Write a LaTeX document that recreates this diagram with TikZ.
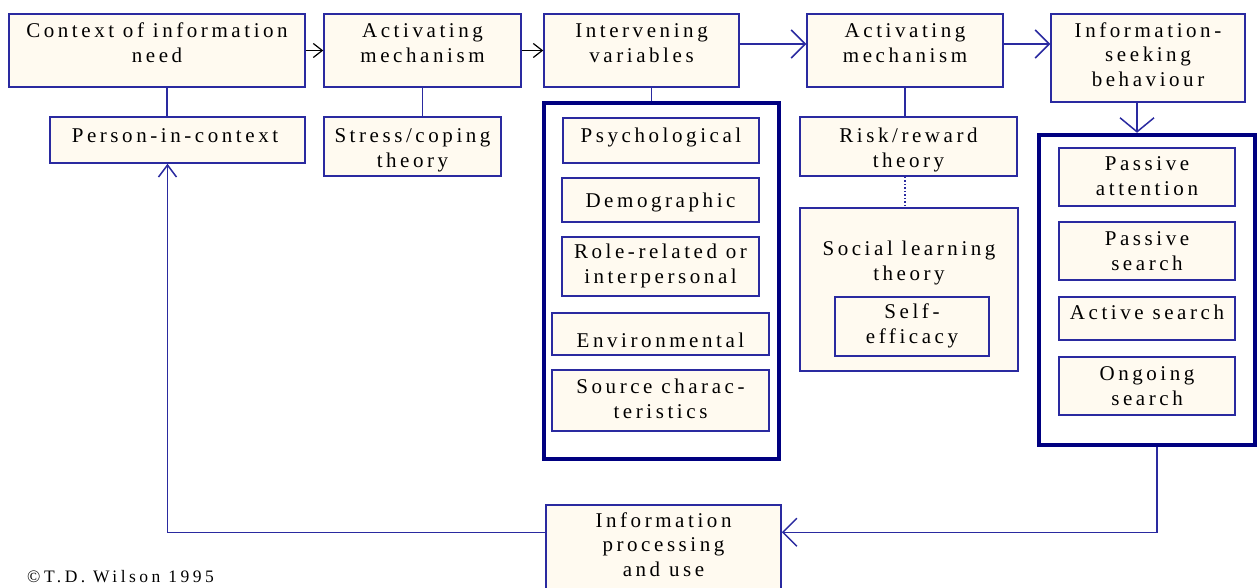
\documentclass[tikz,border=0pt]{standalone}
\usepackage{fontspec}
\setmainfont{Liberation Serif}
\newfontfamily\spaced{Liberation Serif}[LetterSpace=17]
\newfontfamily\signfont{Liberation Serif}[LetterSpace=20]
\usetikzlibrary{arrows.meta,fit}

\definecolor{edge}{HTML}{2A2AA0}
\definecolor{deep}{HTML}{000080}
\definecolor{paper}{HTML}{FFFAF0}

\tikzset{
  box/.style={draw=edge, line width=1.5pt, fill=paper, inner sep=0pt},
  frame/.style={draw=deep, line width=4.5pt, fill=white, inner sep=0pt},
  % anchor=base sits on the baseline of the last line
  lbl/.style={anchor=base, align=center, inner sep=0pt, text=black,
              font=\spaced\fontsize{21}{24.5}\selectfont},
  link/.style={draw=edge, line width=1.5pt},
  bigtip/.style={-{Straight Barb[length=14pt,width=28pt]}},
  downtip/.style={-{Straight Barb[length=14pt,width=34pt]}},
  uptip/.style={-{Straight Barb[length=12pt,width=18pt]}},
  smalltip/.style={draw=black, line width=1.2pt, -{Straight Barb[length=9pt,width=14pt]}},
}

\begin{document}
\begin{tikzpicture}[x=1pt,y=-1pt]
\useasboundingbox[fill=white] (0,0) rectangle (1257,587);

% top row
\node[box, fit={(9,14) (305,87)}] (ctx) {};
\node[box, fit={(324,14) (521,87)}] (act1) {};
\node[box, fit={(544,14) (739,87)}] (intv) {};
\node[box, fit={(807,14) (1003,87)}] (act2) {};
\node[box, fit={(1051,14) (1245,102)}] (iseek) {};

\node[lbl] (ctxT) at (157,62) {Context of information\\need};
\node[lbl] (act1T) at (422.5,62) {Activating\\mechanism};
\node[lbl] (intvT) at (641.5,62) {Intervening\\variables};
\node[lbl] (act2T) at (905,62) {Activating\\mechanism};
\node[lbl] (iseekT) at (1148,86) {Information-\\seeking\\behaviour};

% second row
\node[box, fit={(50,117) (305,163)}] (pic) {};
\node[box, fit={(324,117) (501,176)}] (stress) {};
\node[box, fit={(800,117) (1017,176)}] (risk) {};
\node[lbl] (picT) at (175,142) {Person-in-context};
\node[lbl] (stressT) at (412.5,167) {Stress/coping\\theory};
\node[lbl] (riskT) at (908.5,167) {Risk/reward\\theory};

% intervening variables
\node[frame, fit={(544,103) (779,459)}] (f1) {};
\node[box, fit={(563,118) (759,163)}] (psych) {};
\node[box, fit={(562,178) (759,222)}] (demo) {};
\node[box, fit={(562,237) (759,296)}] (role) {};
\node[box, fit={(552,313) (769,355)}] (env) {};
\node[box, fit={(552,370) (769,431)}] (src) {};
\node[lbl] (psychT) at (661,142) {Psychological};
\node[lbl] (demoT) at (660.5,207) {Demographic};
\node[lbl] (roleT) at (660.5,283) {Role-related or\\interpersonal};
\node[lbl] (envT) at (660.5,347) {Environmental};
\node[lbl] (srcT) at (660.5,418) {Source charac-\\teristics};

% social learning theory
\node[box, fit={(800,208) (1018,371)}] (social) {};
\node[box, fit={(835,297) (989,356)}] (self) {};
\node[lbl] (socialT) at (909,280) {Social learning\\theory};
\node[lbl] (selfT) at (912,343) {Self-\\efficacy};

% information-seeking modes
\node[frame, fit={(1039,135) (1255,445)}] (f2) {};
\node[box, fit={(1059,148) (1235,206)}] (patt) {};
\node[box, fit={(1059,222) (1235,280)}] (psrch) {};
\node[box, fit={(1059,297) (1235,340)}] (asrch) {};
\node[box, fit={(1059,357) (1235,415)}] (ongo) {};
\node[lbl] (pattT) at (1147,195) {Passive\\attention};
\node[lbl] (psrchT) at (1147,270) {Passive\\search};
\node[lbl] (asrchT) at (1147,319) {Active search};
\node[lbl] (ongoT) at (1147,405) {Ongoing\\search};

% information processing
\node[box, fit={(546,505) (781,600)}] (iproc) {};
\node[lbl] (iprocT) at (663.5,576) {Information\\processing\\and use};
\coordinate (pin) at ([yshift=-28pt]iproc.north east);
\coordinate (pout) at ([yshift=-28pt]iproc.north west);

\node[anchor=base west, inner sep=0pt, font=\signfont\fontsize{17.5}{20}\selectfont] (copy) at (27,582) {\copyright T.D. Wilson 1995};

% connectors
\draw[smalltip] (ctx.east) -- (act1.west);
\draw[smalltip] (act1.east) -- (intv.west);
\draw[link, bigtip] ([yshift=6.5pt]intv.east) -- ([yshift=6.5pt]act2.west);
\draw[link, bigtip] ([yshift=6.5pt]act2.east) -- ([yshift=6.5pt]act2.east -| iseek.west);
\draw[link, downtip] ([xshift=-11pt]iseek.south) -- ([xshift=-11pt]iseek.south |- f2.north);

\draw[link] ([xshift=10pt]ctx.south) -- ([xshift=10pt]ctx.south |- pic.north);
\draw[link] (act1.south) -- (act1.south |- stress.north);
\draw[link] ([xshift=10pt]intv.south) -- ([xshift=10pt]intv.south |- f1.north);
\draw[link] (act2.south) -- (act2.south |- risk.north);
\draw[link, dotted] (act2.south |- risk.south) -- (act2.south |- social.north);

\draw[link, bigtip] ([xshift=10pt]f2.south) |- (pin);
\draw[link, uptip] (pout) -| ([xshift=-10pt]pic.south);
\end{tikzpicture}
\end{document}
